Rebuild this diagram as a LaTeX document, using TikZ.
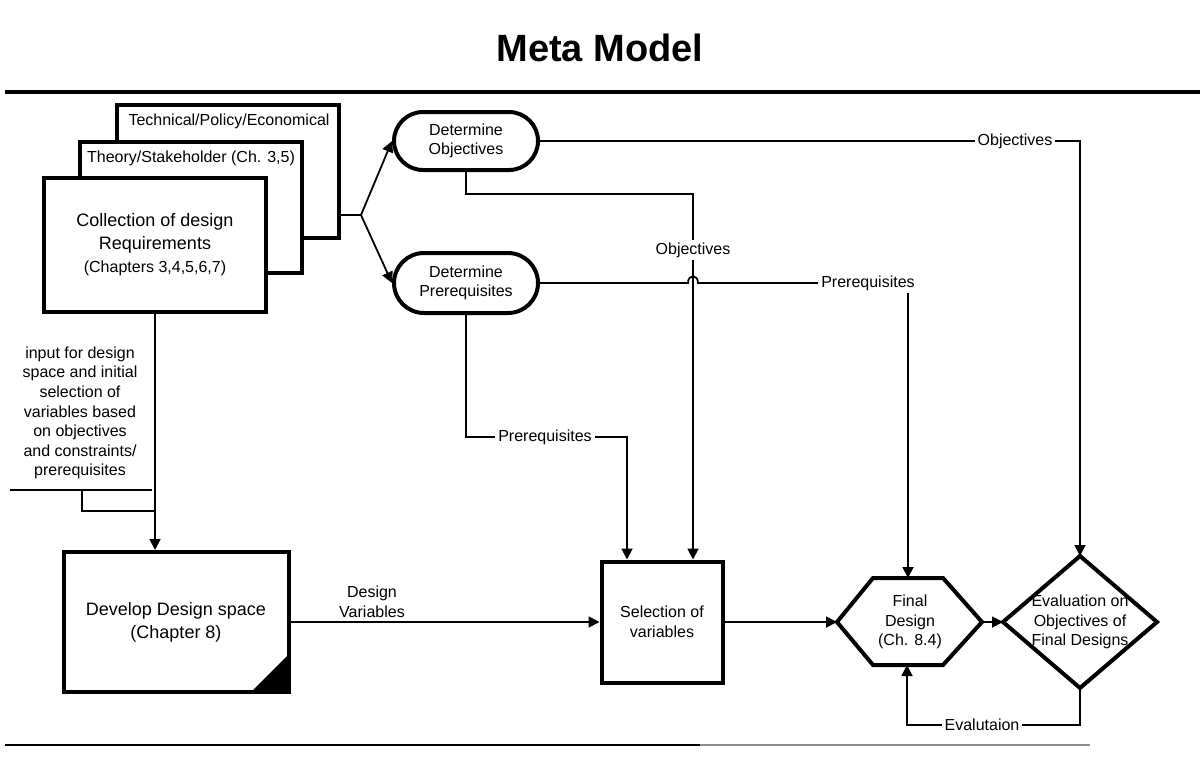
\documentclass[tikz,border=0pt]{standalone}
\usepackage{fontspec}
\setmainfont{Liberation Sans}
\usetikzlibrary{arrows.meta}
\begin{document}
\begin{tikzpicture}[x=0.5pt,y=-0.5pt,
  box/.style={draw, line width=2pt, fill=white, inner sep=0pt},
  conn/.style={line width=0.9pt},
  arr/.style={conn, -{Triangle[length=5.5pt,width=5.5pt]}},
  small/.style={font=\fontsize{8}{9.8}\selectfont, align=center, inner sep=1pt},
  big/.style={font=\fontsize{9}{11.5}\selectfont, align=center, inner sep=1pt},
  tag/.style={small, fill=white, inner sep=1.5pt},
  outline/.style={line width=2pt, line join=miter},
]
\useasboundingbox (0,0) rectangle (1200,768);

% title and rules
\node[font=\fontsize{19}{22}\selectfont\bfseries] (title) at (600,48) {Meta Model};
\coordinate (rl) at (5,92); \coordinate (rr) at (1200,92);
\draw[line width=2pt] (rl) -- (rr);
\coordinate (bl) at (5,745); \coordinate (bm) at (700,745); \coordinate (br2) at (1090,745);
\draw[line width=0.7pt] (bl) -- (bm);
\draw[line width=0.7pt, black!45] (bm) -- (br2);

% stacked requirement sheets
\node[box, minimum width=111pt, minimum height=66.5pt] (b3) at (228,171.5) {};
\node[small] (t3) at (229,121) {Technical/Policy/Economical};
\node[box, minimum width=111pt, minimum height=65.5pt] (b2) at (191,207.5) {};
\node[small] (t2) at (191,158) {Theory/Stakeholder (Ch. 3,5)};
\node[box, big, minimum width=111pt, minimum height=67pt] (b1) at (155,245)
  {Collection of design\\Requirements\\{\fontsize{8}{10}\selectfont (Chapters 3,4,5,6,7)}};

% determination steps
\node[box, small, rounded corners=14.5pt, minimum width=72pt, minimum height=29pt] (obj) at (466,141) {Determine\\Objectives};
\node[box, small, rounded corners=15pt, minimum width=72pt, minimum height=30pt] (prq) at (466,283) {Determine\\Prerequisites};

% design space and selection
\node[box, big, minimum width=112.5pt, minimum height=70pt] (dev) at (176,622) {Develop Design space\\(Chapter 8)};
\fill (289,654) -- (251,692) -- (289,692) -- cycle;
\node[box, small, minimum width=60.5pt, minimum height=60.5pt] (sel) at (662,622) {Selection of\\variables};

% final design hexagon
\coordinate (hW) at (837,622); \coordinate (hNW) at (873,578); \coordinate (hNE) at (943,578);
\coordinate (hE) at (982,622); \coordinate (hSE) at (943,665); \coordinate (hSW) at (873,665);
\coordinate (hN) at (908,578); \coordinate (hS) at (907,665);
\draw[outline] (hW) -- (hNW) -- (hNE) -- (hE) -- (hSE) -- (hSW) -- cycle;
\node[small] (fin) at (910,622) {Final\\Design\\(Ch. 8.4)};

% evaluation diamond
\coordinate (dW) at (1003,622); \coordinate (dN) at (1080,556);
\coordinate (dE) at (1157,622); \coordinate (dS) at (1080,688);
\draw[outline] (dW) -- (dN) -- (dE) -- (dS) -- cycle;
\node[small] (evl) at (1080,622) {Evaluation on\\Objectives of\\Final Designs};

% branch from the requirements
\coordinate (fork) at (361,215);
\draw[conn] (b3.east |- fork) -- (fork);
\draw[arr] (fork) -- (obj.west);
\draw[arr] (fork) -- (prq.west);

% objectives to evaluation
\coordinate (oc) at (1080,141);
\draw[arr] (obj.east) -- (oc) -- (dN);
\node[tag] (lo1) at (1015,141) {Objectives};

% objectives to selection
\coordinate (o2a) at (466,194); \coordinate (o2b) at (693,194);
\draw[arr] (obj.south) -- (o2a) -- (o2b) -- (o2b |- sel.north);
\node[tag] (lo2) at (693,250) {Objectives};

% prerequisites to final design, hopping over the objectives line
\coordinate (hp1) at (688,283); \coordinate (hp2) at (698,283); \coordinate (pc) at (908,283);
\draw[conn] (prq.east) -- (hp1) .. controls (688,274) and (698,274) .. (hp2) -- (pc);
\draw[arr] (pc) -- (hN);
\node[tag] (lp1) at (868,283) {Prerequisites};

% prerequisites to selection
\coordinate (p2a) at (466,437); \coordinate (p2b) at (627,437);
\draw[arr] (prq.south) -- (p2a) -- (p2b) -- (p2b |- sel.north);
\node[tag] (lp2) at (545,437) {Prerequisites};

% requirements to design space
\draw[arr] (b1.south) -- (b1.south |- dev.north);
\node[small] (inp) at (80,413) {input for design\\space and initial\\selection of\\variables based\\on objectives\\and constraints/\\prerequisites};
\coordinate (u1) at (10,490); \coordinate (u2) at (152,490);
\draw[line width=1.1pt] (u1) -- (u2);
\coordinate (u3) at (82,490); \coordinate (u4) at (82,511); \coordinate (u5) at (155,511);
\draw[conn] (u3) -- (u4) -- (u5);

% main flow
\draw[arr] (dev.east) -- (sel.west);
\node[small] (dv) at (372,602) {Design\\Variables};
\draw[arr] (sel.east) -- (hW);
\draw[arr] (hE) -- (dW);

% evaluation feedback
\coordinate (e1) at (1080,725); \coordinate (e2) at (907,725);
\draw[arr] (dS) -- (e1) -- (e2) -- (hS);
\node[tag] (le) at (982,725) {Evalutaion};
\end{tikzpicture}
\end{document}
